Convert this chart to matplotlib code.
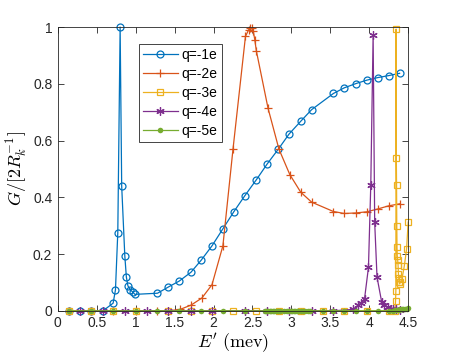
import matplotlib
matplotlib.use('Agg')
import matplotlib.pyplot as plt

plt.rcParams['font.family'] = ['Liberation Sans', 'DejaVu Sans']
plt.rcParams['mathtext.fontset'] = 'cm'

# q = -1e
x1 = [0.14, 0.29, 0.43, 0.58, 0.71, 0.74, 0.77, 0.80, 0.82, 0.86, 0.88, 0.90, 0.93, 0.96, 0.99,
      1.28, 1.42, 1.56, 1.71, 1.84, 1.98, 2.12, 2.26, 2.40, 2.55, 2.69, 2.83, 2.97, 3.12, 3.26,
      3.54, 3.68, 3.83, 3.97, 4.11, 4.25, 4.39]
y1 = [0, 0, 0, 0, 0.027, 0.074, 0.276, 1.0, 0.44, 0.194, 0.119, 0.088, 0.074, 0.067, 0.058,
      0.062, 0.084, 0.105, 0.136, 0.178, 0.229, 0.289, 0.349, 0.405, 0.462, 0.518, 0.569, 0.623, 0.668, 0.709,
      0.766, 0.786, 0.801, 0.813, 0.822, 0.829, 0.837]

# q = -2e
x2 = [0.14, 0.43, 0.71, 1.0, 1.28, 1.42, 1.57, 1.71, 1.85, 1.98, 2.12, 2.25, 2.41, 2.45, 2.47,
      2.49, 2.51, 2.53, 2.55, 2.70, 2.84, 2.98, 3.12, 3.26, 3.54, 3.68, 3.83, 3.97, 4.11, 4.25, 4.39]
y2 = [0, 0, 0, 0, 0, 0, 0.005, 0.02, 0.045, 0.092, 0.229, 0.57, 0.967, 0.99, 0.996,
      0.995, 0.987, 0.955, 0.916, 0.714, 0.57, 0.48, 0.418, 0.383, 0.35, 0.343, 0.345, 0.349, 0.359, 0.37, 0.377]

# q = -3e
x3 = [0.14, 0.43, 0.71, 1.0, 1.42, 1.71, 1.98, 2.25, 2.55, 2.84, 3.12, 3.40, 3.68, 3.97, 4.25,
      4.33, 4.338, 4.342, 4.345, 4.348, 4.351, 4.354, 4.357, 4.36, 4.365, 4.37, 4.375, 4.38,
      4.385, 4.39, 4.40, 4.42, 4.45, 4.48, 4.50]
y3 = [0, 0, 0, 0, 0, 0, 0, 0, 0, 0, 0, 0, 0, 0, 0,
      0.0, 0.033, 0.07, 0.993, 0.537, 0.443, 0.30, 0.225, 0.194, 0.18, 0.163, 0.131, 0.115,
      0.10, 0.095, 0.10, 0.112, 0.157, 0.218, 0.313]

# q = -4e
x4 = [0.29, 0.58, 0.86, 1.14, 1.42, 1.71, 1.98, 2.41, 2.69, 2.97, 3.26, 3.54, 3.79, 3.86, 3.89,
      3.94, 3.99, 4.02, 4.05, 4.07, 4.10, 4.16, 4.19, 4.24, 4.30, 4.35, 4.40]
y4 = [0, 0, 0, 0, 0, 0, 0, 0, 0, 0, 0, 0, 0.005, 0.02, 0.027,
      0.043, 0.153, 0.445, 0.973, 0.312, 0.119, 0.031, 0.019, 0.013, 0.008, 0.005, 0.003]

# q = -5e
x5 = [0.14, 0.43, 0.71, 1.0, 1.28, 1.56, 1.84, 2.12, 2.40, 2.66, 2.68, 2.70, 2.72, 2.74, 2.76,
      2.78, 2.80, 2.83, 2.85, 2.91, 2.95, 2.97, 2.99, 3.01, 3.03, 3.05, 3.07, 3.09, 3.12, 3.15,
      3.18, 3.21, 3.24, 3.40, 3.54, 3.68, 3.83, 3.97, 4.11, 4.25, 4.30, 4.33, 4.36, 4.38, 4.40,
      4.42, 4.44, 4.46, 4.48, 4.50]
y5 = [0] * 40 + [0.001, 0.002, 0.003, 0.004, 0.005, 0.006, 0.007, 0.007, 0.008, 0.009]

labels = ['q=-1e', 'q=-2e', 'q=-3e', 'q=-4e', 'q=-5e']
colors = ['#0072BD', '#D95319', '#EDB120', '#7E2F8E', '#77AC30']

fig = plt.figure(figsize=(4.52, 3.61), dpi=100)
ax = fig.add_axes([0.128, 0.139, 0.775, 0.786])

ax.plot(x1, y1, color=colors[0], lw=0.9, marker='o', ms=5, mfc='none', mew=0.9, label=labels[0], clip_on=False)
ax.plot(x2, y2, color=colors[1], lw=0.9, marker='+', ms=6, mew=0.9, label=labels[1], clip_on=False)
ax.plot(x3, y3, color=colors[2], lw=0.9, marker='s', ms=5, mfc='none', mew=0.9, label=labels[2], clip_on=False)
ax.plot(x4, y4, color=colors[3], lw=0.9, marker=(6, 2, 0), ms=6, mew=0.9, label=labels[3], clip_on=False)
ax.plot(x5, y5, color=colors[4], lw=0.9, marker='o', ms=4, mew=0, label=labels[4], clip_on=False)

ax.set_xlim(0, 4.5)
ax.set_ylim(0, 1)
ax.set_xticks([0, 0.5, 1, 1.5, 2, 2.5, 3, 3.5, 4, 4.5])
ax.set_xticklabels(['0', '0.5', '1', '1.5', '2', '2.5', '3', '3.5', '4', '4.5'])
ax.set_yticks([0, 0.2, 0.4, 0.6, 0.8, 1])
ax.set_yticklabels(['0', '0.2', '0.4', '0.6', '0.8', '1'])
ax.tick_params(direction='in', top=True, right=True, labelsize=10, colors='#262626',
               length=4, width=0.6, pad=4)
for s in ax.spines.values():
    s.set_color('#262626')
    s.set_linewidth(0.6)

ax.set_xlabel(r"$E'\ \mathrm{(mev)}$", fontsize=13, labelpad=1)
ax.set_ylabel(r"$G/[2R_k^{-1}]$", fontsize=13, labelpad=2)

leg = ax.legend(loc='upper left', bbox_to_anchor=(0.231, 0.94), borderaxespad=0,
                fontsize=10, fancybox=False, framealpha=1, edgecolor='#262626',
                handlelength=2.5, handletextpad=0.3, labelspacing=0.35, borderpad=0.3)
leg.get_frame().set_linewidth(0.6)

fig.savefig('out.png', dpi=100)
